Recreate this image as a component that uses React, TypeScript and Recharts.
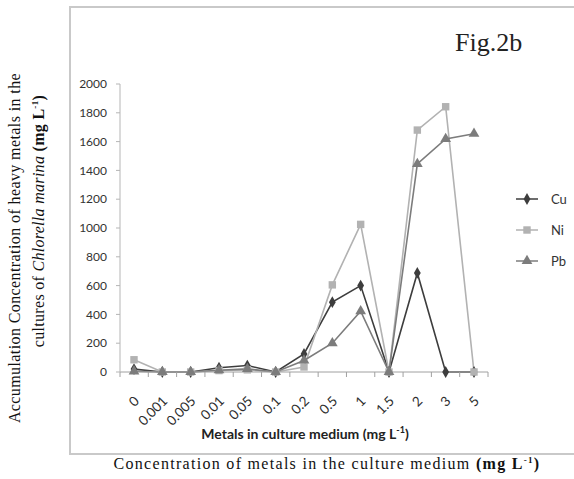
import { LineChart, Line, XAxis, YAxis, Symbols } from "recharts";

const concentrations = ["0", "0.001", "0.005", "0.01", "0.05", "0.1", "0.2", "0.5", "1", "1.5", "2", "3", "5"];
const cuValues = [20, 0, 0, 30, 45, 0, 125, 485, 600, 0, 688, 0, 0];
const niValues = [85, 0, 0, 10, 15, 0, 35, 605, 1025, 0, 1680, 1842, 0];
const pbValues = [5, 0, 0, 12, 22, 0, 80, 200, 422, 0, 1445, 1618, 1655];
const yTicks = [0, 200, 400, 600, 800, 1000, 1200, 1400, 1600, 1800, 2000];
const bandEdges = [0, 1, 2, 3, 4, 5, 6, 7, 8, 9, 10, 11, 12, 13];

const series = [
  { key: "Cu", color: "#3d3d3d", shape: "diamond", size: 40 },
  { key: "Ni", color: "#b2b2b2", shape: "square", size: 55 },
  { key: "Pb", color: "#7c7c7c", shape: "triangle", size: 50 },
] as const;

const data = concentrations.map((c, i) => ({
  c,
  slot: i + 0.5,
  Cu: cuValues[i],
  Ni: niValues[i],
  Pb: pbValues[i],
}));

const labelFont = "Lato, 'Open Sans', sans-serif";
const serifFont = "'Liberation Serif', serif";

function markerDot(type: any, color: string, size: number) {
  return (props: any) => {
    const { cx, cy, index } = props;
    if (cx == null || cy == null) return <g key={index} />;
    return <Symbols key={index} cx={cx} cy={cy} type={type} size={size} fill={color} />;
  };
}

function SlantTick(props: any) {
  const { x, y, payload } = props;
  const ax = x + 6;
  const ay = y + 16;
  return (
    <text
      x={ax}
      y={ay}
      transform={`rotate(-45, ${ax}, ${ay})`}
      textAnchor="end"
      fontFamily={labelFont}
      fontSize={13.5}
      fill="#2e2e2e"
    >
      {payload.value}
    </text>
  );
}

function BlankTick() {
  return <g />;
}

function LegendBox() {
  return (
    <div style={{ position: "absolute", left: 515, top: 191 }}>
      {series.map((s, i) => (
        <div key={s.key} style={{ position: "absolute", top: i * 31, left: 0, display: "flex", alignItems: "center", width: 60 }}>
          <svg width={24} height={14}>
            <line x1={1} y1={7} x2={23} y2={7} stroke={s.color} strokeWidth={1.5} />
            <Symbols cx={12} cy={7} type={s.shape} size={s.size} fill={s.color} />
          </svg>
          <span style={{ fontFamily: labelFont, fontSize: 13, color: "#333", marginLeft: 12 }}>{s.key}</span>
        </div>
      ))}
    </div>
  );
}

export default function App() {
  return (
    <div style={{ position: "absolute", left: 0, top: 0, width: 574, height: 479, background: "#fff", overflow: "hidden" }}>
      <div
        style={{
          position: "absolute",
          left: 69,
          top: 6,
          width: 540,
          height: 445,
          border: "2px solid #c9c9c9",
        }}
      />
      <div
        style={{
          position: "absolute",
          left: 455,
          top: 28,
          fontFamily: serifFont,
          fontSize: 26,
          color: "#222",
        }}
      >
        Fig.2b
      </div>
      <LineChart
        width={574}
        height={479}
        data={data}
        margin={{ top: 84, right: 86, left: 80, bottom: 47 }}
        style={{ position: "absolute", left: 0, top: 0 }}
      >
        <XAxis
          xAxisId="b"
          dataKey="c"
          interval={0}
          padding={{ left: 14, right: 14 }}
          axisLine={false}
          tickLine={false}
          tick={<SlantTick />}
          height={54}
        />
        <XAxis
          xAxisId="a"
          type="number"
          dataKey="slot"
          domain={[0, 13]}
          ticks={bandEdges}
          interval={0}
          allowDataOverflow
          tick={<BlankTick />}
          tickLine={{ stroke: "#a0a0a0" }}
          tickSize={5}
          tickMargin={0}
          stroke="#a0a0a0"
          height={6}
        />
        <YAxis
          domain={[0, 2000]}
          ticks={yTicks}
          width={40}
          tickSize={4}
          tickMargin={9}
          stroke="#b5b5b5"
          tick={{ fontFamily: labelFont, fontSize: 12, fill: "#333" }}
        />
        {series.map((s) => (
          <Line
            key={s.key}
            xAxisId="b"
            dataKey={s.key}
            stroke={s.color}
            strokeWidth={1.6}
            dot={markerDot(s.shape, s.color, s.size)}
            isAnimationActive={false}
          />
        ))}
      </LineChart>
      <LegendBox />
      <div
        style={{
          position: "absolute",
          left: 130,
          width: 350,
          top: 424,
          textAlign: "center",
          fontFamily: labelFont,
          fontWeight: "bold",
          fontSize: 14,
          color: "#222",
        }}
      >
        Metals in culture medium (mg L<sup style={{ fontSize: 9 }}>-1</sup>)
      </div>
      <div
        style={{
          position: "absolute",
          left: 27,
          width: 600,
          top: 455,
          textAlign: "center",
          fontFamily: serifFont,
          fontSize: 16,
          letterSpacing: 1.3,
          color: "#111",
          whiteSpace: "nowrap",
        }}
      >
        Concentration of metals in the culture medium <b>(mg L<sup style={{ fontSize: 9 }}>-1</sup>)</b>
      </div>
      <div
        style={{
          position: "absolute",
          left: 15,
          top: 248,
          width: 420,
          transform: "translate(-50%, -50%) rotate(-90deg)",
          textAlign: "center",
          fontFamily: serifFont,
          fontSize: 16,
          letterSpacing: 0.4,
          lineHeight: "20px",
          color: "#111",
          whiteSpace: "nowrap",
        }}
      >
        Accumulation Concentration of heavy metals in the
      </div>
      <div
        style={{
          position: "absolute",
          left: 37,
          top: 221,
          width: 420,
          transform: "translate(-50%, -50%) rotate(-90deg)",
          textAlign: "center",
          fontFamily: serifFont,
          fontSize: 16,
          letterSpacing: 0.3,
          lineHeight: "20px",
          color: "#111",
          whiteSpace: "nowrap",
        }}
      >
        cultures of <i>Chlorella marina</i> <b>(mg L<sup style={{ fontSize: 9 }}>-1</sup>)</b>
      </div>
    </div>
  );
}
